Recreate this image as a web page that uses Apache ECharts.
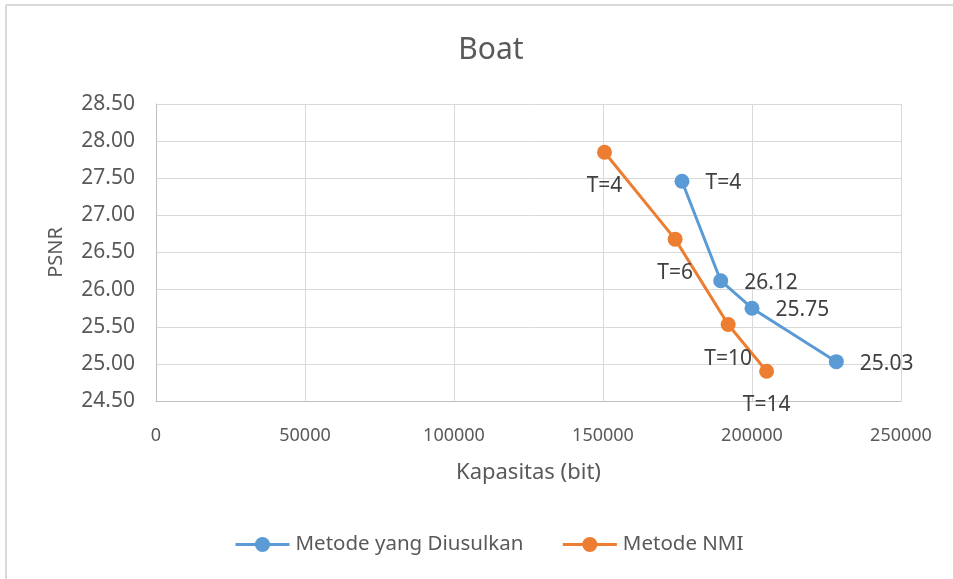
<!DOCTYPE html>
<html>
<head>
<meta charset="utf-8">
<script src="https://cdn.jsdelivr.net/npm/echarts@6/dist/echarts.min.js"></script>
<style>
  html, body { margin: 0; padding: 0; background: #fff; }
  #chart { width: 953px; height: 579px; }
</style>
</head>
<body>
<div id="chart"></div>
<script>
// Capacity (bits) vs PSNR for the "Boat" image, two embedding methods
const seriesNames = ['Metode yang Diusulkan', 'Metode NMI'];

const proposedCapacity = [176500, 189500, 200000, 228300];
const proposedPsnr     = [27.46, 26.12, 25.75, 25.03];
const proposedLabels   = ['T=4', '26.12', '25.75', '25.03'];

const nmiCapacity = [150500, 174200, 192000, 204900];
const nmiPsnr     = [27.85, 26.68, 25.53, 24.90];
const nmiLabels   = ['T=4', 'T=6', 'T=10', 'T=14'];

const FONT = '"Noto Sans", "Open Sans", sans-serif';
const TEXT = '#595959';

function pairs(xs, ys) { return xs.map((x, i) => [x, ys[i]]); }

const chart = echarts.init(document.getElementById('chart'), null, { renderer: 'canvas' });

chart.setOption({
  backgroundColor: '#ffffff',
  animation: false,
  title: {
    text: 'Boat',
    left: 486,
    textAlign: 'center',
    top: 30,
    textStyle: { fontFamily: FONT, fontSize: 30, fontWeight: 'normal', color: TEXT }
  },
  grid: { left: 156, right: 52, top: 104, bottom: 178, containLabel: false },
  xAxis: {
    type: 'value',
    min: 0, max: 250000, interval: 50000,
    name: 'Kapasitas (bit)',
    nameLocation: 'middle',
    nameGap: 61,
    nameTextStyle: { fontFamily: FONT, fontSize: 22, color: TEXT },
    axisLine: { show: true, lineStyle: { color: '#bfbfbf', width: 1 } },
    axisTick: { show: false },
    axisLabel: { margin: 26, fontFamily: FONT, fontSize: 18, color: TEXT, formatter: v => String(v) },
    splitLine: { show: true, lineStyle: { color: '#d9d9d9', width: 1 } }
  },
  yAxis: {
    type: 'value',
    min: 24.5, max: 28.5, interval: 0.5,
    name: 'PSNR',
    nameLocation: 'middle',
    nameGap: 90,
    nameRotate: 90,
    nameTextStyle: { fontFamily: FONT, fontSize: 20, color: TEXT },
    axisLine: { show: true, lineStyle: { color: '#bfbfbf', width: 1 } },
    axisTick: { show: false },
    axisLabel: {
      margin: 21, fontFamily: FONT, fontSize: 21, color: TEXT,
      formatter: v => v.toFixed(2)
    },
    splitLine: { show: true, lineStyle: { color: '#d9d9d9', width: 1 } }
  },
  legend: {
    left: 229,
    top: 529,
    itemWidth: 54,
    itemHeight: 19,
    itemGap: 38,
    lineStyle: { width: 3 },
    textStyle: { fontFamily: FONT, fontSize: 20.5, color: TEXT, padding: [0, 0, 0, 1] },
    data: seriesNames
  },
  graphic: [
    { type: 'line', shape: { x1: 6, y1: 5, x2: 6, y2: 579 }, style: { stroke: '#d9d9d9', lineWidth: 2 }, silent: true },
    { type: 'line', shape: { x1: 6, y1: 5, x2: 953, y2: 5 }, style: { stroke: '#d9d9d9', lineWidth: 2 }, silent: true }
  ],
  series: [
    {
      name: seriesNames[0],
      type: 'line',
      data: pairs(proposedCapacity, proposedPsnr),
      symbol: 'circle',
      symbolSize: 15,
      color: '#5B9BD5',
      lineStyle: { width: 3, color: '#5B9BD5' },
      itemStyle: { color: '#5B9BD5' },
      label: {
        show: true,
        position: 'right',
        distance: 16,
        offset: [0, 2],
        fontFamily: FONT, fontSize: 21, color: '#404040',
        formatter: p => proposedLabels[p.dataIndex]
      },
      z: 3
    },
    {
      name: seriesNames[1],
      type: 'line',
      data: pairs(nmiCapacity, nmiPsnr),
      symbol: 'circle',
      symbolSize: 15,
      color: '#ED7D31',
      lineStyle: { width: 3, color: '#ED7D31' },
      itemStyle: { color: '#ED7D31' },
      label: {
        show: true,
        position: 'bottom',
        distance: 16,
        fontFamily: FONT, fontSize: 21, color: '#404040',
        formatter: p => nmiLabels[p.dataIndex]
      },
      z: 3
    }
  ]
});
</script>
</body>
</html>
